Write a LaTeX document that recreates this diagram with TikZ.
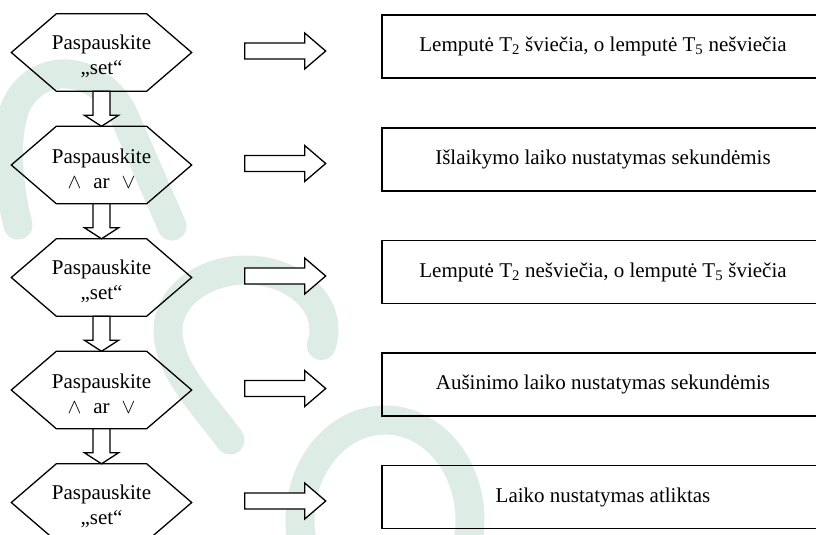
\documentclass[tikz,border=0pt]{standalone}
\usepackage{fontspec}
\setmainfont{Liberation Serif}
\usetikzlibrary{calc}
\definecolor{wm}{RGB}{221,236,229}
\tikzset{
  hexbox/.style={draw=none, inner sep=0pt, minimum width=180pt, minimum height=77pt},
  hextext/.style={font=\fontsize{21}{25}\selectfont, align=center, inner sep=0pt},
  hexline/.style={draw=black, line width=1.3pt, line join=miter},
  rectbox/.style={draw=black, line width=1.8pt, minimum width=442pt, minimum height=63pt, font=\fontsize{21}{25}\selectfont, inner sep=0pt},
  blockarrow/.style={draw=black, fill=white, line width=1.3pt, line join=miter},
  wmark/.style={draw=wm, line width=29pt, line cap=round, line join=round},
}
\newcommand\hexshape[1]{\draw[hexline] (#1.west) -- ($(#1.north west)+(45,0)$) -- ($(#1.north east)+(-45,0)$) -- (#1.east) -- ($(#1.south east)+(-45,0)$) -- ($(#1.south west)+(45,0)$) -- cycle;}
\newcommand\rarrow[1]{\draw[blockarrow] ($(#1.east)+(53,-9.5)$) -- ($(#1.east)+(113,-9.5)$) -- ($(#1.east)+(113,-19.5)$) -- ($(#1.east)+(134,-1.5)$) -- ($(#1.east)+(113,16.5)$) -- ($(#1.east)+(113,6.5)$) -- ($(#1.east)+(53,6.5)$) -- cycle;}
\newcommand\darrow[2]{\draw[blockarrow] ($(#1.south)+(-8.5,0)$) -- ($(#2.north)+(-8.5,-11)$) -- ($(#2.north)+(-17,-11)$) -- (#2.north) -- ($(#2.north)+(17,-11)$) -- ($(#2.north)+(8.5,-11)$) -- ($(#1.south)+(8.5,0)$) -- cycle;}
\begin{document}
\begin{tikzpicture}[x=1pt,y=-1pt]
\clip (0,0) rectangle (816,535);
\fill[white] (0,0) rectangle (816,535);
% watermark
\draw[wmark] (172,226) -- (125,118) .. controls (100,62) and (35,60) .. (15,108) .. controls (4,140) and (8,185) .. (18,225);
\draw[wmark] (246,330) ++(15:78 and 60) arc[start angle=15, end angle=-180, x radius=78, y radius=60] .. controls (168,370) and (205,405) .. (230,440);
\draw[wmark] (385,520) ++(25:85 and 100) arc[start angle=25, end angle=-200, x radius=85, y radius=100];
% hexagons
\foreach \i/\y in {1/52.5,2/165,3/277.5,4/390,5/502.5}{
  \node[hexbox] (h\i) at (101.5,\y) {};
  \hexshape{h\i}
}
\node[hextext] (t1) at ($(h1)+(0,4)$) {Paspauskite\\„set“};
\node[hextext] (t2) at ($(h2)+(0,4)$) {Paspauskite\\$\wedge$\hspace{12pt}ar\hspace{12pt}$\vee$};
\node[hextext] (t3) at ($(h3)+(0,4)$) {Paspauskite\\„set“};
\node[hextext] (t4) at ($(h4)+(0,4)$) {Paspauskite\\$\wedge$\hspace{12pt}ar\hspace{12pt}$\vee$};
\node[hextext] (t5) at ($(h5)+(0,4)$) {Paspauskite\\„set“};
% rectangles
\node[rectbox] (r1) at (603,46.5) {Lemputė T\textsubscript{2} šviečia, o lemputė T\textsubscript{5} nešviečia};
\node[rectbox] (r2) at (603,159.5) {Išlaikymo laiko nustatymas sekundėmis};
\node[rectbox] (r3) at (603,272) {Lemputė T\textsubscript{2} nešviečia, o lemputė T\textsubscript{5} šviečia};
\node[rectbox] (r4) at (603,384.5) {Aušinimo laiko nustatymas sekundėmis};
\node[rectbox] (r5) at (603,497) {Laiko nustatymas atliktas};
% arrows
\foreach \i in {1,...,5}{\rarrow{h\i}}
\darrow{h1}{h2}
\darrow{h2}{h3}
\darrow{h3}{h4}
\darrow{h4}{h5}
\end{tikzpicture}
\end{document}
